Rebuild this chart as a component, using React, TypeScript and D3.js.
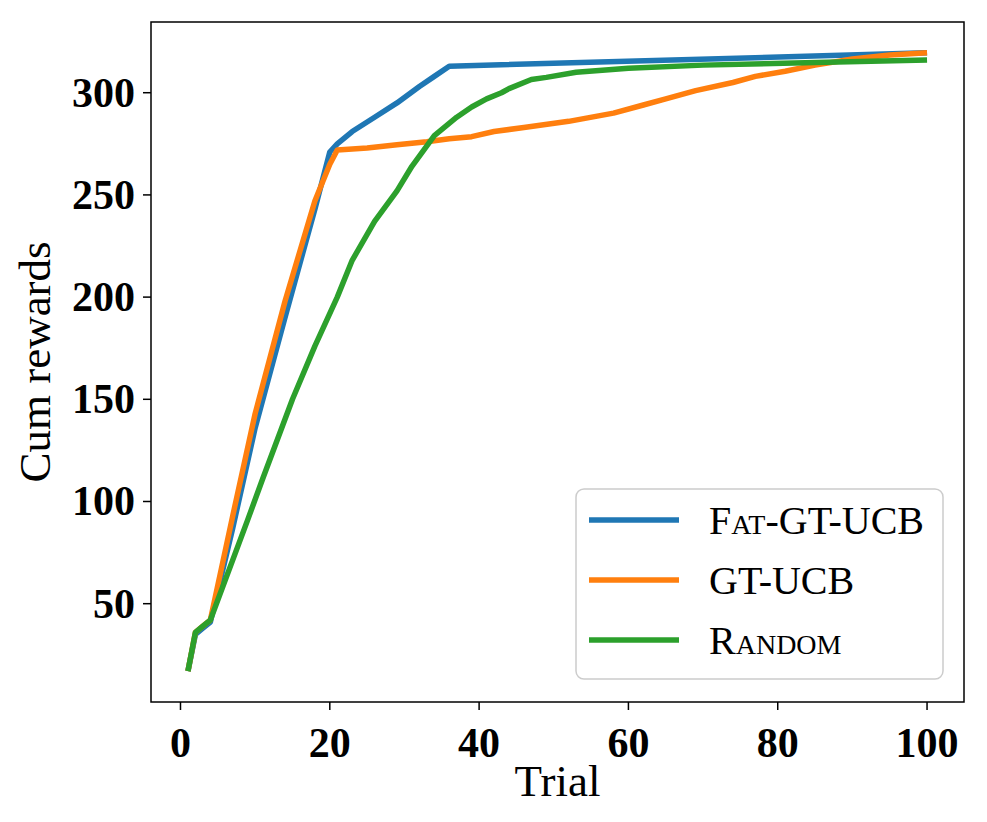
import React from "react";
import * as d3 from "d3";

// knots (trial, cumulative reward)
const fatTrials = [1, 2, 3, 4, 7, 10, 14, 18, 20, 21, 23, 26, 29, 32, 34, 36, 100];
const fatValues = [17, 35, 38, 41, 87, 136, 190, 243, 271, 275, 281, 288, 295, 303, 308, 313, 319.5];

const gtTrials = [1, 2, 3, 4, 7, 10, 14, 18, 20, 21, 25, 29, 33, 36, 39, 42, 46, 52, 58, 62, 65, 69, 74, 77, 81, 85, 90, 95, 100];
const gtValues = [17, 36, 39, 42, 93, 143, 198, 247, 265, 272, 273, 274.5, 276, 277.5, 278.5, 281, 283, 286, 290, 294, 297, 301, 305, 308, 310.5, 313.5, 316.5, 318.5, 319.5];

const rndTrials = [1, 2, 3, 4, 9, 11, 15, 18, 21, 23, 26, 29, 31, 34, 37, 39, 41, 43, 44, 47, 49, 53, 60, 70, 88, 100];
const rndValues = [17, 36, 39, 42, 91, 111, 150, 176, 200, 218, 237, 252, 264, 279, 288, 293, 297, 300, 302, 306.5, 307.5, 310, 312, 313.5, 315, 316];

const xTicks = [0, 20, 40, 60, 80, 100];
const yTicks = [50, 100, 150, 200, 250, 300];

const seriesNames = ["Fat-GT-UCB", "GT-UCB", "Random"];
const colors = ["#1f77b4", "#ff7f0e", "#2ca02c"];

const W = 987;
const H = 822;
const left = 151, right = 964, top = 22, bottom = 702;

export default function App() {
  const x = d3.scaleLinear().domain([-3.95, 104.95]).range([left, right]);
  const y = d3.scaleLinear().domain([1.9, 334.6]).range([bottom, top]);

  const line = d3
    .line<[number, number]>()
    .x((d) => x(d[0]))
    .y((d) => y(d[1]));

  const series = [
    fatTrials.map((t, i) => [t, fatValues[i]] as [number, number]),
    gtTrials.map((t, i) => [t, gtValues[i]] as [number, number]),
    rndTrials.map((t, i) => [t, rndValues[i]] as [number, number]),
  ];

  const font = "'Liberation Serif', 'DejaVu Serif', serif";

  return (
    <svg
      width={W}
      height={H}
      style={{ position: "absolute", left: 0, top: 0, background: "#fff" }}
      fontFamily={font}
    >
      <rect x={0} y={0} width={W} height={H} fill="#fff" />
      <defs>
        <clipPath id="plot">
          <rect x={left} y={top} width={right - left} height={bottom - top} />
        </clipPath>
      </defs>

      {/* lines */}
      <g clipPath="url(#plot)">
        {series.map((s, i) => (
          <path
            key={i}
            d={line(s) || ""}
            fill="none"
            stroke={colors[i]}
            strokeWidth={5.5}
            strokeLinejoin="round"
            strokeLinecap="butt"
          />
        ))}
      </g>

      {/* spines */}
      <rect
        x={left}
        y={top}
        width={right - left}
        height={bottom - top}
        fill="none"
        stroke="#000"
        strokeWidth={1.5}
      />

      {/* x axis */}
      {xTicks.map((t) => (
        <g key={t}>
          <line x1={x(t)} x2={x(t)} y1={bottom} y2={bottom + 8} stroke="#000" strokeWidth={1.5} />
          <text x={x(t)} y={bottom + 55} textAnchor="middle" fontSize={42} fontWeight="bold">
            {t}
          </text>
        </g>
      ))}

      {/* y axis */}
      {yTicks.map((t) => (
        <g key={t}>
          <line x1={left - 8} x2={left} y1={y(t)} y2={y(t)} stroke="#000" strokeWidth={1.5} />
          <text x={left - 16} y={y(t) + 14} textAnchor="end" fontSize={42} fontWeight="bold">
            {t}
          </text>
        </g>
      ))}

      <text x={(left + right) / 2} y={796} textAnchor="middle" fontSize={45}>
        Trial
      </text>
      <text
        transform={`translate(50, ${(top + bottom) / 2}) rotate(-90)`}
        textAnchor="middle"
        fontSize={45}
      >
        Cum rewards
      </text>

      {/* legend */}
      <rect
        x={576}
        y={489}
        width={367}
        height={190}
        rx={8}
        fill="#fff"
        fillOpacity={0.8}
        stroke="#cccccc"
        strokeWidth={1.5}
      />
      {seriesNames.map((name, i) => {
        const ly = 520 + i * 60;
        return (
          <g key={name}>
            <line x1={589} x2={679} y1={ly} y2={ly} stroke={colors[i]} strokeWidth={5.5} />
            <text x={709} y={ly + 14} fontSize={40}>
              {i === 0 ? (
                <>
                  F<tspan fontVariant="small-caps">at</tspan>-GT-UCB
                </>
              ) : i === 2 ? (
                <>
                  R<tspan fontVariant="small-caps">andom</tspan>
                </>
              ) : (
                name
              )}
            </text>
          </g>
        );
      })}
    </svg>
  );
}
